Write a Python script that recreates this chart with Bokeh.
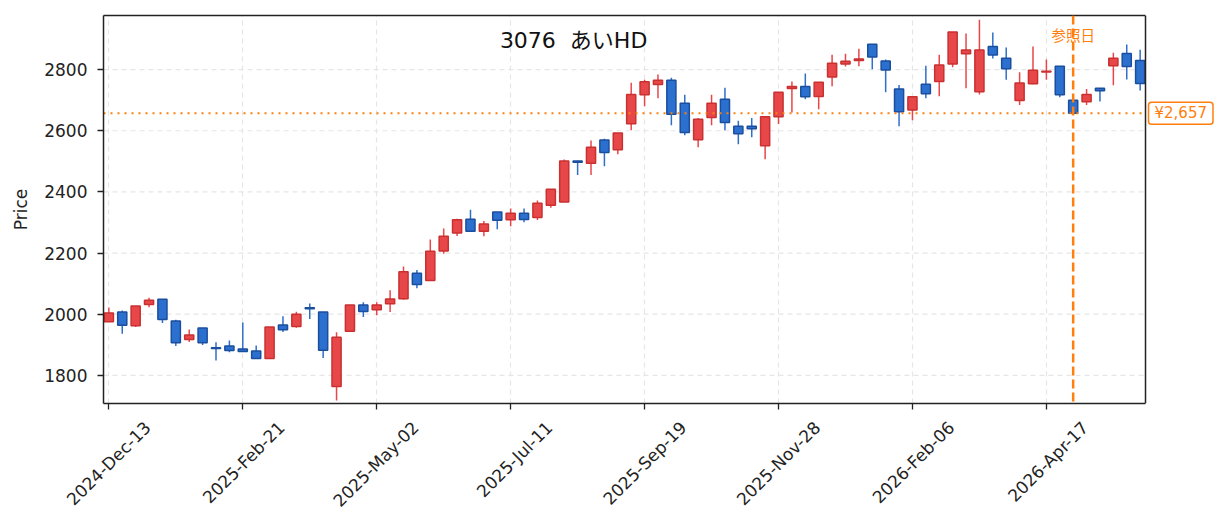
import math
import pandas as pd
from bokeh.plotting import figure
from bokeh.models import FixedTicker, Span, Label, Range1d, ColumnDataSource, LinearAxis
from bokeh.embed import file_html
from bokeh.resources import INLINE

# ---- data ----
start_date = "2024-12-13"
n_weeks = 78
opens = [1975, 2007, 1962, 2032, 2049, 1978, 1917, 1955, 1890, 1896, 1886, 1880, 1855, 1965,
         1960, 2021, 2007, 1764, 1944, 2030, 2015, 2034, 2051, 2134, 2110, 2207, 2266, 2311,
         2271, 2334, 2309, 2330, 2316, 2356, 2367, 2501, 2494, 2570, 2538, 2623, 2718, 2751,
         2765, 2690, 2571, 2643, 2703, 2615, 2615, 2551, 2646, 2738, 2745, 2712, 2776, 2818,
         2830, 2883, 2828, 2737, 2668, 2752, 2761, 2818, 2852, 2728, 2876, 2837, 2699, 2754,
         2792, 2811, 2700, 2695, 2739, 2813, 2853, 2830]
highs = [2022, 2012, 2027, 2054, 2050, 1982, 1950, 1955, 1908, 1914, 1973, 1898, 1958, 1993,
         2008, 2035, 2007, 1941, 2030, 2039, 2039, 2078, 2156, 2145, 2244, 2280, 2312, 2342,
         2305, 2334, 2346, 2346, 2372, 2409, 2506, 2502, 2568, 2574, 2593, 2757, 2767, 2784,
         2773, 2718, 2642, 2718, 2741, 2633, 2642, 2648, 2726, 2761, 2787, 2759, 2849, 2852,
         2868, 2883, 2833, 2750, 2711, 2813, 2849, 2923, 2918, 2963, 2921, 2872, 2791, 2876,
         2833, 2811, 2700, 2737, 2739, 2855, 2882, 2865]
lows = [1975, 1936, 1958, 2023, 1971, 1896, 1909, 1899, 1849, 1876, 1877, 1854, 1854, 1942,
        1956, 1984, 1857, 1718, 1944, 1991, 1997, 2007, 2047, 2085, 2110, 2198, 2256, 2270,
        2255, 2278, 2288, 2301, 2308, 2348, 2367, 2455, 2455, 2484, 2523, 2602, 2680, 2706,
        2618, 2585, 2546, 2618, 2602, 2556, 2579, 2507, 2622, 2660, 2703, 2670, 2746, 2810,
        2811, 2801, 2726, 2615, 2634, 2706, 2713, 2808, 2739, 2719, 2836, 2767, 2684, 2752,
        2767, 2710, 2652, 2684, 2696, 2749, 2768, 2732]
closes = [2004, 1964, 2027, 2046, 1983, 1907, 1932, 1907, 1888, 1881, 1878, 1855, 1958, 1949,
          2000, 2018, 1882, 1925, 2030, 2009, 2030, 2050, 2139, 2097, 2206, 2255, 2309, 2271,
          2295, 2307, 2330, 2310, 2363, 2409, 2501, 2497, 2546, 2529, 2593, 2719, 2760, 2765,
          2654, 2594, 2638, 2690, 2627, 2590, 2607, 2646, 2726, 2745, 2711, 2759, 2821, 2827,
          2835, 2841, 2799, 2662, 2711, 2721, 2815, 2923, 2864, 2864, 2848, 2803, 2756, 2798,
          2795, 2718, 2657, 2719, 2731, 2837, 2810, 2755]
tick_every = 10
y_ticks = [1800, 2000, 2200, 2400, 2600, 2800]
ref_index = 72
ref_price = 2657
title_text = "3076 \u00a0あいHD"
ref_text = "参照日"
price_label = "¥2,657"

dates = pd.date_range(start_date, periods=n_weeks, freq="7D")
idx = list(range(n_weeks))
tick_pos = idx[::tick_every]
tick_labels = {i: dates[i].strftime("%Y-%b-%d") for i in tick_pos}

UP_FILL, UP_LINE = "#e8474a", "#c93030"
DN_FILL, DN_LINE = "#2b6fcf", "#1b4f9e"
ORANGE = "#ff7f0e"
INK = "#222222"
FONT = "DejaVu Sans, Noto Sans CJK JP"
CJK = "Noto Sans CJK JP"

up = [c >= o for o, c in zip(opens, closes)]
src = ColumnDataSource(dict(
    x=idx, o=opens, h=highs, l=lows, c=closes,
    top=[max(o, c) for o, c in zip(opens, closes)],
    bot=[min(o, c) for o, c in zip(opens, closes)],
    fill=[UP_FILL if u else DN_FILL for u in up],
    line=[UP_LINE if u else DN_LINE for u in up],
    wick=[UP_FILL if u else "#2f6fc8" for u in up],
))

# axes box spans X0..X1; the drawing area continues to XR so that the price tag fits
W, H = 1215, 521
LEFT, RIGHT_BOX, TOP, BOTTOM = 103, 1145, 15, 118
X0, X1 = -0.4, 77.4
Y0, Y1 = 1708, 2977
px_per_unit = (RIGHT_BOX - LEFT) / (X1 - X0)
XR = X1 + (W - RIGHT_BOX) / px_per_unit
SHIFT = 2.9

p = figure(width=W, height=H, output_backend="svg", toolbar_location=None,
           x_range=Range1d(X0, XR), y_range=Range1d(Y0, Y1),
           min_border_left=LEFT, min_border_right=0, min_border_top=TOP, min_border_bottom=BOTTOM)
p.extra_x_ranges = {"lbl": Range1d(X0 - SHIFT, XR - SHIFT)}
p.background_fill_color = "white"
p.outline_line_color = None
p.ygrid.visible = False

# horizontal grid lines, limited to the axes box
p.segment(x0=[X0] * len(y_ticks), x1=[X1] * len(y_ticks), y0=y_ticks, y1=y_ticks,
          line_color="#e6e6e6", line_dash="5 4", line_width=1.2)

p.segment(x0="x", y0="l", x1="x", y1="h", source=src, line_color="wick", line_width=1.5)
p.vbar(x="x", width=0.68, top="top", bottom="bot", source=src,
       fill_color="fill", line_color="line", line_width=1.5)

p.xaxis.ticker = FixedTicker(ticks=tick_pos)
p.xaxis.bounds = (X0, X1)
p.yaxis.ticker = FixedTicker(ticks=y_ticks)
p.yaxis.axis_label = "Price"

for ax in (p.xaxis[0], p.yaxis[0]):
    ax.axis_line_color = INK
    ax.axis_line_width = 1.5
    ax.major_tick_line_color = INK
    ax.major_tick_line_width = 1.3
    ax.major_tick_out = 6
    ax.major_tick_in = 0
    ax.minor_tick_line_color = None
    ax.minor_tick_out = 0
    ax.major_label_text_font = FONT
    ax.major_label_text_font_size = "17px"
    ax.major_label_text_color = INK
    ax.major_label_standoff = 10
    ax.axis_label_text_font = FONT
    ax.axis_label_text_font_size = "17px"
    ax.axis_label_text_font_style = "normal"
    ax.axis_label_text_color = INK
p.yaxis.axis_label_standoff = 10
# the bottom axis only draws the line and tick marks; labels come from lbl_axis
p.xaxis.major_label_text_font_size = "1px"
p.xaxis.major_label_text_color = None
p.xaxis.major_label_standoff = 0

lbl_axis = LinearAxis(x_range_name="lbl", ticker=FixedTicker(ticks=tick_pos),
                      major_label_overrides=tick_labels,
                      major_label_orientation=math.pi / 4,
                      axis_line_color=None, major_tick_line_color=None,
                      major_tick_out=0, major_tick_in=0, minor_tick_line_color=None,
                      minor_tick_out=0,
                      major_label_text_font=FONT, major_label_text_font_size="17px",
                      major_label_text_color=INK, major_label_standoff=15)
p.add_layout(lbl_axis, "below")

# top edge of the axes box
top_axis = LinearAxis(ticker=FixedTicker(ticks=[]), bounds=(X0, X1),
                      axis_line_color=INK, axis_line_width=1.5,
                      major_tick_out=0, major_tick_in=0, minor_tick_out=0,
                      major_tick_line_color=None, minor_tick_line_color=None)
p.add_layout(top_axis, "above")
# right edge of the axes box
p.add_layout(Span(location=X1, dimension="height", line_color=INK, line_width=1.5))

p.xgrid.ticker = FixedTicker(ticks=tick_pos)
p.xgrid.grid_line_color = "#e6e6e6"
p.xgrid.grid_line_dash = "5 4"
p.xgrid.grid_line_width = 1.2

p.segment(x0=[X0], x1=[X1], y0=[ref_price], y1=[ref_price], line_color=ORANGE,
          line_dash="2 5", line_width=2)
p.add_layout(Span(location=ref_index, dimension="height", line_color=ORANGE,
                  line_dash="9 4", line_width=2.5))

p.add_layout(Label(x=34.7, y=2895, text=title_text, text_align="center", text_baseline="middle",
                   text_font=FONT, text_font_size="22px", text_color="#111111"))
p.add_layout(Label(x=ref_index, y=2914, text=ref_text, text_align="center", text_baseline="middle",
                   text_font=CJK, text_font_size="14.5px", text_color=ORANGE))
p.add_layout(Label(x=X1, y=ref_price, x_offset=3, text=price_label, text_align="left",
                   text_baseline="middle", text_font=FONT, text_font_size="15px",
                   text_color=ORANGE, background_fill_color="white",
                   border_line_color=ORANGE, border_line_width=1.5,
                   padding=dict(left=6, right=6, top=2, bottom=2),
                   border_radius=3))

open("out.html", "w").write(file_html(p, INLINE))
